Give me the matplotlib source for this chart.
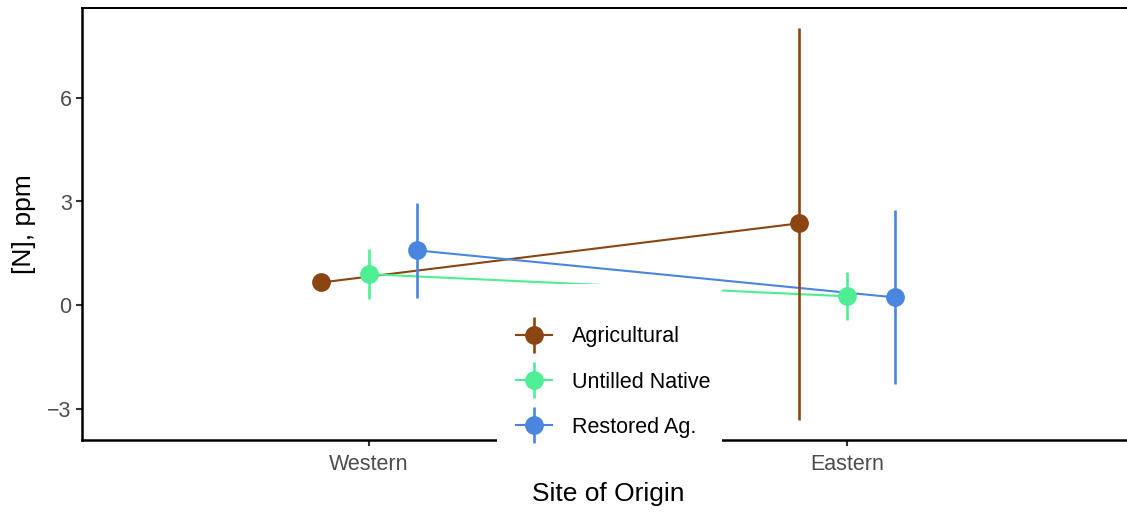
import matplotlib
matplotlib.use("Agg")
import matplotlib.pyplot as plt
from matplotlib.patches import Rectangle
from matplotlib.lines import Line2D

plt.rcParams['font.family'] = ['Liberation Sans', 'DejaVu Sans']

# Data: mean [N] by site of origin and land-use history, with error bar limits
sites = ["Western", "Eastern"]
groups = ["Agricultural", "Untilled Native", "Restored Ag."]
colors = ["#8B4513", "#4EEE94", "#4A86E0"]
means = {
    "Agricultural":    [0.66, 2.37],
    "Untilled Native": [0.90, 0.26],
    "Restored Ag.":    [1.59, 0.23],
}
lower = {
    "Agricultural":    [0.52, -3.32],
    "Untilled Native": [0.17, -0.43],
    "Restored Ag.":    [0.20, -2.28],
}
upper = {
    "Agricultural":    [0.80, 8.02],
    "Untilled Native": [1.62, 0.95],
    "Restored Ag.":    [2.97, 2.74],
}
yticks = [-3, 0, 3, 6]
dodge = [-0.1, 0.0, 0.1]

W, H = 1127, 512
fig = plt.figure(figsize=(W / 100, H / 100), dpi=100)
ax = fig.add_axes([82 / W, 72 / H, (1134 - 82) / W, (504 - 72) / H])

xbase = [1, 2]
handles = []
for g, c, d in zip(groups, colors, dodge):
    xs = [xb + d for xb in xbase]
    ax.plot(xs, means[g], color=c, lw=1.5, zorder=2, solid_capstyle='butt')
    m = means[g]
    yerr = [[mi - lo for mi, lo in zip(m, lower[g])],
            [hi - mi for mi, hi in zip(m, upper[g])]]
    ax.errorbar(xs, m, yerr=yerr, fmt='o', color=c, ecolor=c,
                elinewidth=1.9, capsize=0, markersize=13.5,
                markeredgewidth=0, zorder=3)
    # legend key: path line + point + vertical error bar
    key_line = Line2D([], [], color=c, lw=1.5, marker='o', markersize=13.5,
                      markeredgewidth=0)
    key_bar = Line2D([], [], color=c, lw=0, marker='|', markersize=26,
                     markeredgewidth=1.9)
    handles.append((key_line, key_bar))

ax.set_xlim(0.4, 2.6)
ax.set_ylim(-3.89, 8.59)
ax.set_xticks(xbase)
ax.set_xticklabels(sites)
ax.set_yticks(yticks)
ax.set_yticklabels(["\u22123", "0", "3", "6"])

for s in ["left", "bottom", "top"]:
    ax.spines[s].set_linewidth(1.8)
    ax.spines[s].set_color("black")
ax.spines["right"].set_visible(False)
ax.spines["top"].set_linewidth(1.4)

ax.tick_params(axis="both", length=4.4, width=1.5, color="#333333",
               labelsize=15.5, labelcolor="#4D4D4D")
ax.tick_params(axis="x", pad=5.5)
ax.tick_params(axis="y", pad=3)

ax.set_xlabel("Site of Origin", fontsize=19, labelpad=5)
ax.set_ylabel("[N], ppm", fontsize=19, labelpad=8)

# white legend background panel
bg = Rectangle((497 / W, (H - 476) / H), (722 - 497) / W, (476 - 284) / H,
               transform=fig.transFigure, facecolor="white", edgecolor="none",
               zorder=10)
fig.add_artist(bg)

leg = fig.legend(handles, groups, loc="center left",
                 bbox_to_anchor=(505 / W, (H - 382) / H),
                 frameon=False, fontsize=15.5, borderpad=0,
                 handlelength=1.7, handletextpad=0.9, labelspacing=1.12)
leg.set_zorder(11)

fig.savefig("out.png", dpi=100)
